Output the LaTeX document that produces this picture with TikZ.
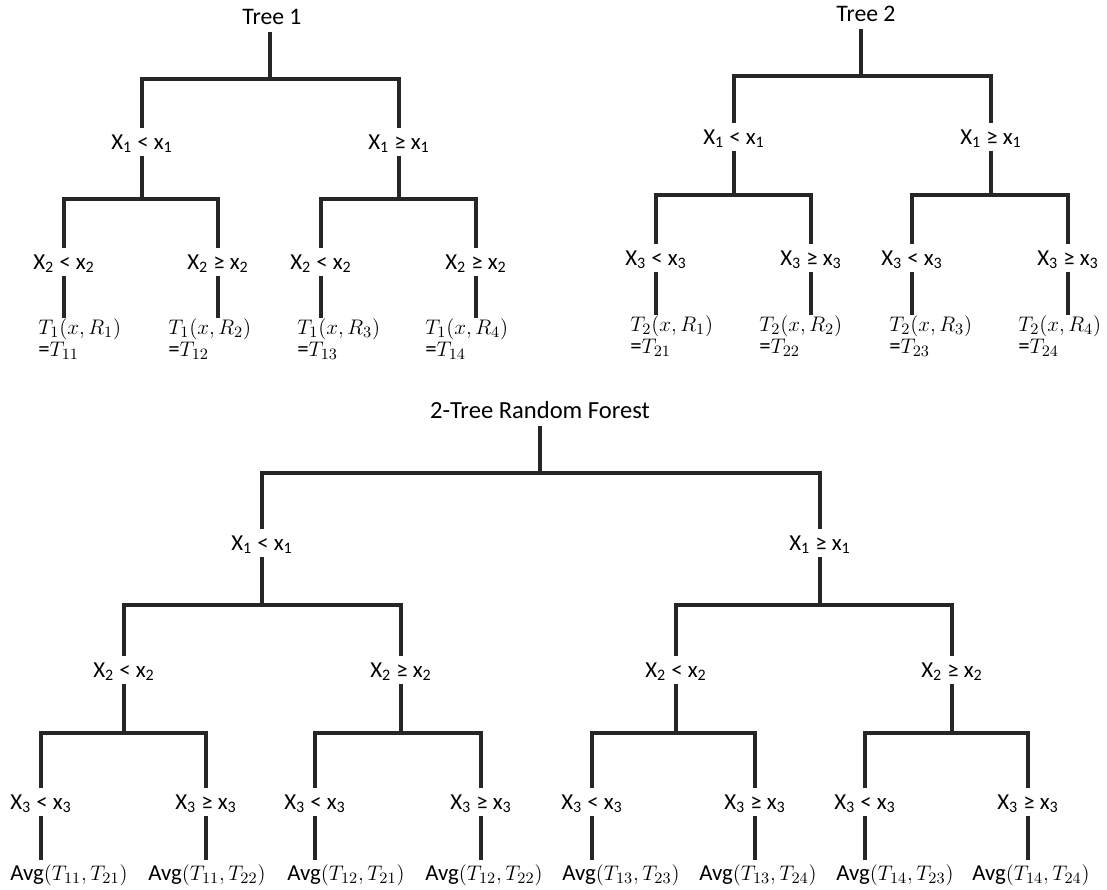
\documentclass[tikz,border=0pt]{standalone}
\usepackage{fontspec}
\setmainfont{Carlito}

\begin{document}
\begin{tikzpicture}[x=0.02cm,y=-0.02cm,
    cond/.style={inner sep=0pt,text height=12pt,text depth=3.3pt,font=\fontsize{13}{15}\selectfont},
    title/.style={anchor=base,inner sep=4.5pt,text depth=0pt,font=\fontsize{13.5}{16}\selectfont},
    val/.style={anchor=north west,inner sep=0pt,align=left,font=\fontsize{13}{12.5}\selectfont},
    avg/.style={anchor=base,inner sep=2pt,font=\fontsize{13}{15}\selectfont},
    branch/.style={line width=1.8pt,draw=black!85}]
      \useasboundingbox (0,0) rectangle (1107,890);
      % tree 1
      \node[title] (t1) at (272,24) {Tree 1};
      \node[cond] (t1l) at (142,142) {X\textsubscript{1} < x\textsubscript{1}};
      \node[cond] (t1r) at (399,142) {X\textsubscript{1} ≥ x\textsubscript{1}};
      \node[cond] (t1ll) at (64,262) {X\textsubscript{2} < x\textsubscript{2}};
      \node[cond] (t1lr) at (218,262) {X\textsubscript{2} ≥ x\textsubscript{2}};
      \node[cond] (t1rl) at (321,262) {X\textsubscript{2} < x\textsubscript{2}};
      \node[cond] (t1rr) at (476,262) {X\textsubscript{2} ≥ x\textsubscript{2}};
      \node[val] (t1v1) at (38,318) {$T_1(x,R_1)$\\=$T_{11}$};
      \node[val] (t1v2) at (168,318) {$T_1(x,R_2)$\\=$T_{12}$};
      \node[val] (t1v3) at (297,318) {$T_1(x,R_3)$\\=$T_{13}$};
      \node[val] (t1v4) at (425,318) {$T_1(x,R_4)$\\=$T_{14}$};
      \coordinate (t1j) at (270,79);
      \coordinate (t1lj) at (142,199);
      \coordinate (t1rj) at (399,199);
      \draw[branch]
        (t1.south -| t1j) -- (t1j)
        (t1l.north) |- (t1j) -| (t1r.north)
        (t1l.south) -- (t1lj)
        (t1ll.north) |- (t1lj) -| (t1lr.north)
        (t1r.south) -- (t1rj)
        (t1rl.north) |- (t1rj) -| (t1rr.north)
        (t1ll.south) -- (t1ll.south |- t1v1.north)
        (t1lr.south) -- (t1lr.south |- t1v2.north)
        (t1rl.south) -- (t1rl.south |- t1v3.north)
        (t1rr.south) -- (t1rr.south |- t1v4.north);
      % tree 2
      \node[title] (t2) at (866,21) {Tree 2};
      \node[cond] (t2l) at (734,137) {X\textsubscript{1} < x\textsubscript{1}};
      \node[cond] (t2r) at (991,137) {X\textsubscript{1} ≥ x\textsubscript{1}};
      \node[cond] (t2ll) at (656,258) {X\textsubscript{3} < x\textsubscript{3}};
      \node[cond] (t2lr) at (811,258) {X\textsubscript{3} ≥ x\textsubscript{3}};
      \node[cond] (t2rl) at (912,258) {X\textsubscript{3} < x\textsubscript{3}};
      \node[cond] (t2rr) at (1068,258) {X\textsubscript{3} ≥ x\textsubscript{3}};
      \node[val] (t2v1) at (630,315) {$T_2(x,R_1)$\\=$T_{21}$};
      \node[val] (t2v2) at (759,315) {$T_2(x,R_2)$\\=$T_{22}$};
      \node[val] (t2v3) at (889,315) {$T_2(x,R_3)$\\=$T_{23}$};
      \node[val] (t2v4) at (1018,315) {$T_2(x,R_4)$\\=$T_{24}$};
      \coordinate (t2j) at (861,76);
      \coordinate (t2lj) at (734,195);
      \coordinate (t2rj) at (991,195);
      \draw[branch]
        (t2.south -| t2j) -- (t2j)
        (t2l.north) |- (t2j) -| (t2r.north)
        (t2l.south) -- (t2lj)
        (t2ll.north) |- (t2lj) -| (t2lr.north)
        (t2r.south) -- (t2rj)
        (t2rl.north) |- (t2rj) -| (t2rr.north)
        (t2ll.south) -- (t2ll.south |- t2v1.north)
        (t2lr.south) -- (t2lr.south |- t2v2.north)
        (t2rl.south) -- (t2rl.south |- t2v3.north)
        (t2rr.south) -- (t2rr.south |- t2v4.north);
      % forest
      \node[title,font=\fontsize{14}{16}\selectfont] (rf) at (540,418) {2-Tree Random Forest};
      \node[cond] (rfl) at (262,543) {X\textsubscript{1} < x\textsubscript{1}};
      \node[cond] (rfr) at (820,543) {X\textsubscript{1} ≥ x\textsubscript{1}};
      \node[cond] (rfll) at (124,670) {X\textsubscript{2} < x\textsubscript{2}};
      \node[cond] (rflr) at (401,670) {X\textsubscript{2} ≥ x\textsubscript{2}};
      \node[cond] (rfrl) at (676,670) {X\textsubscript{2} < x\textsubscript{2}};
      \node[cond] (rfrr) at (952,670) {X\textsubscript{2} ≥ x\textsubscript{2}};
      \node[cond] (rfx1) at (41,802) {X\textsubscript{3} < x\textsubscript{3}};
      \node[cond] (rfx2) at (206,802) {X\textsubscript{3} ≥ x\textsubscript{3}};
      \node[cond] (rfx3) at (315,802) {X\textsubscript{3} < x\textsubscript{3}};
      \node[cond] (rfx4) at (481,802) {X\textsubscript{3} ≥ x\textsubscript{3}};
      \node[cond] (rfx5) at (592,802) {X\textsubscript{3} < x\textsubscript{3}};
      \node[cond] (rfx6) at (755,802) {X\textsubscript{3} ≥ x\textsubscript{3}};
      \node[cond] (rfx7) at (865,802) {X\textsubscript{3} < x\textsubscript{3}};
      \node[cond] (rfx8) at (1028,802) {X\textsubscript{3} ≥ x\textsubscript{3}};
      \node[avg] (avg1) at (69,880) {Avg$(T_{11},T_{21})$};
      \node[avg] (avg2) at (207,880) {Avg$(T_{11},T_{22})$};
      \node[avg] (avg3) at (346,880) {Avg$(T_{12},T_{21})$};
      \node[avg] (avg4) at (484,880) {Avg$(T_{12},T_{22})$};
      \node[avg] (avg5) at (621,880) {Avg$(T_{13},T_{23})$};
      \node[avg] (avg6) at (758,880) {Avg$(T_{13},T_{24})$};
      \node[avg] (avg7) at (895,880) {Avg$(T_{14},T_{23})$};
      \node[avg] (avg8) at (1031,880) {Avg$(T_{14},T_{24})$};
      \coordinate (rfj) at (540,473);
      \coordinate (rflj) at (262,605);
      \coordinate (rfrj) at (820,605);
      \coordinate (rfllj) at (124,733);
      \coordinate (rflrj) at (401,733);
      \coordinate (rfrlj) at (676,733);
      \coordinate (rfrrj) at (952,733);
      \draw[branch]
        (rf.south) -- (rfj)
        (rfl.north) |- (rfj) -| (rfr.north)
        (rfl.south) -- (rflj)
        (rfll.north) |- (rflj) -| (rflr.north)
        (rfr.south) -- (rfrj)
        (rfrl.north) |- (rfrj) -| (rfrr.north)
        (rfll.south) -- (rfllj)
        (rfx1.north) |- (rfllj) -| (rfx2.north)
        (rflr.south) -- (rflrj)
        (rfx3.north) |- (rflrj) -| (rfx4.north)
        (rfrl.south) -- (rfrlj)
        (rfx5.north) |- (rfrlj) -| (rfx6.north)
        (rfrr.south) -- (rfrrj)
        (rfx7.north) |- (rfrrj) -| (rfx8.north);
      \draw[branch]
        (rfx1.south) -- (rfx1.south |- avg1.north)
        (rfx2.south) -- (rfx2.south |- avg2.north)
        (rfx3.south) -- (rfx3.south |- avg3.north)
        (rfx4.south) -- (rfx4.south |- avg4.north)
        (rfx5.south) -- (rfx5.south |- avg5.north)
        (rfx6.south) -- (rfx6.south |- avg6.north)
        (rfx7.south) -- (rfx7.south |- avg7.north)
        (rfx8.south) -- (rfx8.south |- avg8.north);
    \end{tikzpicture}
\end{document}
